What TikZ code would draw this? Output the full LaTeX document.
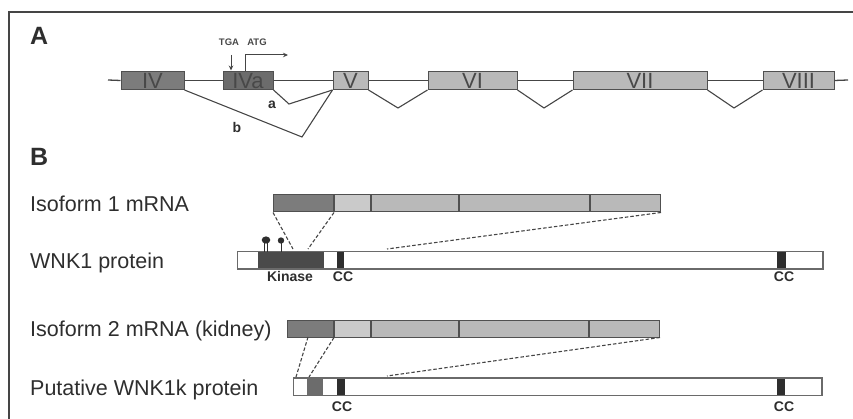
\documentclass[tikz,border=0pt]{standalone}
\usepackage{fontspec}
\setmainfont{Liberation Sans}
\usetikzlibrary{arrows.meta}
\definecolor{ink}{HTML}{2E2E2E}
\definecolor{rule}{HTML}{454545}
\definecolor{edge}{HTML}{505050}
\definecolor{exdark}{HTML}{7C7C7C}
\definecolor{exdarker}{HTML}{6C6C6C}
\definecolor{exlight}{HTML}{B9B9B9}
\definecolor{seglight}{HTML}{CACACA}
\definecolor{domain}{HTML}{4A4A4A}
\definecolor{ccbar}{HTML}{2E2E2E}
\definecolor{numeral}{HTML}{484848}
\tikzset{
  exon/.style={draw=edge, line width=1pt, fill=exlight, inner sep=0pt,
    minimum height=18pt, text height=16pt, text depth=0pt,
    text=numeral, font=\fontsize{22}{22}\selectfont},
  seg/.style={draw=edge, line width=1pt, fill=exlight, inner sep=0pt,
    minimum height=17pt, anchor=west},
  protbar/.style={draw=edge!85, line width=1pt, fill=white, inner sep=0pt,
    minimum height=17pt, anchor=west},
  dom/.style={inner sep=0pt, minimum height=16pt, anchor=west},
  backbone/.style={draw=rule, line width=1.3pt},
  splice/.style={draw=rule, line width=1.1pt},
  guide/.style={draw=rule, line width=1.1pt, dash pattern=on 3.5pt off 2pt},
  rowlabel/.style={anchor=base west, inner sep=0pt, text=ink,
    font=\fontsize{21.5}{21.5}\selectfont},
  panel/.style={anchor=base west, inner sep=0pt, text=ink,
    font=\fontsize{25}{25}\selectfont\bfseries},
  domlabel/.style={anchor=base, inner sep=0pt, text=ink,
    font=\fontsize{14}{14}\selectfont\bfseries},
  junction/.style={inner sep=0pt, text=ink, font=\fontsize{14}{14}\selectfont\bfseries},
  codon/.style={anchor=base, inner sep=0pt, text=numeral,
    font=\fontsize{9.5}{9.5}\selectfont\bfseries},
}
\begin{document}
\begin{tikzpicture}[x=1pt,y=-1pt]
\useasboundingbox (0,0) rectangle (853,419);

% frame
\coordinate (fbl) at (9,419);
\coordinate (ftl) at (9,12);
\coordinate (ftr) at (853,12);
\draw[draw=rule, line width=1.5pt] (fbl) -- (ftl) -- (ftr);

% ---------------- panel A: gene structure ----------------
\node[panel] (pa) at (30,45) {A};

\coordinate (gstart) at (108,80);
\coordinate (gend) at (848,80);
\node[exon, fill=exdark,   minimum width=63pt]  (e4)  at (152.5,80.5) {IV};
\node[exon, fill=exdarker, minimum width=50pt]  (e4a) at (248,80.5)   {IVa};
\node[exon, minimum width=35pt]  (e5)  at (350.5,80.5) {V};
\node[exon, minimum width=89pt]  (e6)  at (472.5,80.5) {VI};
\node[exon, minimum width=134pt] (e7)  at (640,80.5)   {VII};
\node[exon, minimum width=71pt]  (e8)  at (798.5,80.5) {VIII};

\draw[backbone] (gstart) -- (e4.west);
\draw[backbone] (e4.east) -- (e4a.west);
\draw[backbone] (e4a.east) -- (e5.west);
\draw[backbone] (e5.east) -- (e6.west);
\draw[backbone] (e6.east) -- (e7.west);
\draw[backbone] (e7.east) -- (e8.west);
\draw[backbone] (e8.east) -- (gend);

% splicing
\coordinate (va) at (289,104);
\coordinate (vb) at (302,137);
\coordinate (v56) at (398,108);
\coordinate (v67) at (544,108);
\coordinate (v78) at (734,108);
\draw[splice] (e4a.south east) -- (va) -- (e5.south west);
\draw[splice] (e4.south east) -- (vb) -- (e5.south west);
\draw[splice] (e5.south east) -- (v56) -- (e6.south west);
\draw[splice] (e6.south east) -- (v67) -- (e7.south west);
\draw[splice] (e7.south east) -- (v78) -- (e8.south west);
\node[junction] (la) at (272,105) {a};
\node[junction] (lb) at (237,127) {b};

% codons and transcription start
\node[codon] (tga) at (229,46) {TGA};
\node[codon] (atg) at (257,46) {ATG};
\coordinate (tgatop) at (231,55);
\coordinate (tgabot) at (231,70.5);
\draw[rule, line width=1pt, -{Stealth[length=5pt,width=4.5pt]}] (tgatop) -- (tgabot);
\coordinate (atgfoot) at (245,71);
\coordinate (atgtip) at (288,55);
\draw[rule, line width=1pt, -{Stealth[length=5pt,width=4.5pt]}] (atgfoot) |- (atgtip);

% ---------------- panel B: transcripts and proteins ----------------
\node[panel] (pb) at (30,166) {B};

% isoform 1 mRNA
\node[rowlabel] (t1) at (30,212) {Isoform 1 mRNA};
\node[seg, fill=exdark, minimum width=60pt]  (m1a) at (273,203.5) {};
\node[seg, fill=seglight, minimum width=36pt] (m1b) at (m1a.east) {};
\node[seg, minimum width=87pt]  (m1c) at (m1b.east) {};
\node[seg, minimum width=130pt] (m1d) at (m1c.east) {};
\node[seg, minimum width=70pt]  (m1e) at (m1d.east) {};

% WNK1 protein
\node[rowlabel] (t2) at (30,268.5) {WNK1 protein};
\node[protbar, minimum width=585pt] (p1) at (237,260.5) {};
\node[dom, fill=domain, minimum width=66pt] (kin) at (258,260.5) {};
\node[dom, fill=ccbar, minimum width=7pt]  (cc1) at (337,260.5) {};
\node[dom, fill=ccbar, minimum width=9pt]  (cc2) at (777,260.5) {};
\draw[protbar, fill=none] (p1.south west) rectangle (p1.north east);
\node[domlabel] (lk)   at (290,282) {Kinase};
\node[domlabel] (lcc1) at (343,282) {CC};
\node[domlabel] (lcc2) at (784,282) {CC};

% phosphorylation sites
\coordinate (ph1) at (266,240);
\coordinate (ph2) at (281,240.5);
\draw[ink, line width=0.8pt] (264.2,243) -- (264.2,252) (267.6,243) -- (267.6,252);
\draw[ink, line width=0.8pt] (281,243) -- (281,252);
\fill[ink] (ph1) ellipse (4.3pt and 3.6pt);
\fill[ink] (ph2) circle (3.2pt);

% isoform 1 to protein
\coordinate (k1l) at (293,249);
\coordinate (k1r) at (308,249);
\coordinate (k1e) at (387,249);
\draw[guide] (m1a.south west) -- (k1l);
\draw[guide] (m1a.south east) -- (k1r);
\draw[guide] (m1e.south east) -- (k1e);

% isoform 2 mRNA
\node[rowlabel] (t3) at (30,336.5) {Isoform 2 mRNA (kidney)};
\node[seg, fill=exdark, minimum width=46pt]  (m2a) at (287,328.5) {};
\node[seg, fill=seglight, minimum width=36pt] (m2b) at (m2a.east) {};
\node[seg, minimum width=87pt]  (m2c) at (m2b.east) {};
\node[seg, minimum width=129pt] (m2d) at (m2c.east) {};
\node[seg, minimum width=70pt]  (m2e) at (m2d.east) {};

% putative WNK1k protein
\node[rowlabel] (t4) at (30,395) {Putative WNK1k protein};
\node[protbar, minimum width=528pt] (p2) at (293,386.5) {};
\node[dom, fill=exdarker, minimum width=16pt] (kk) at (307,386.5) {};
\node[dom, fill=ccbar, minimum width=8pt]  (cc3) at (337,386.5) {};
\node[dom, fill=ccbar, minimum width=8pt]  (cc4) at (777,386.5) {};
\draw[protbar, fill=none] (p2.south west) rectangle (p2.north east);
\node[domlabel] (lcc3) at (342,411) {CC};
\node[domlabel] (lcc4) at (784,411) {CC};

% isoform 2 to protein
\coordinate (s2) at (308,337);
\coordinate (k2l) at (296,377);
\coordinate (k2r) at (309,377);
\coordinate (k2e) at (387,376);
\draw[guide] (s2) -- (k2l);
\draw[guide] (m2a.south east) -- (k2r);
\draw[guide] (m2e.south east) -- (k2e);
\end{tikzpicture}
\end{document}
